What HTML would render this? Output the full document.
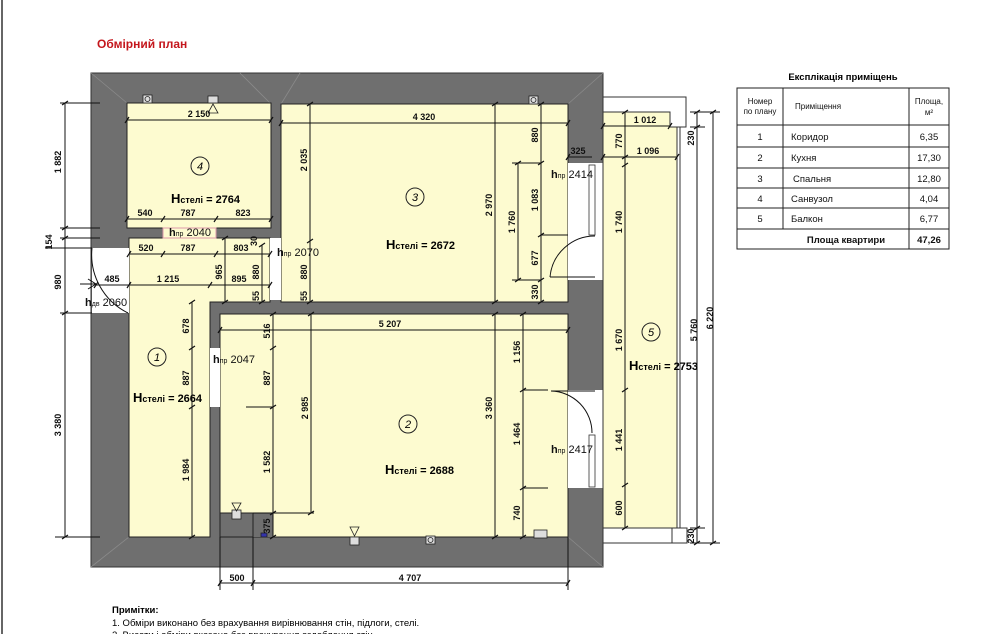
<!DOCTYPE html>
<html><head><meta charset="utf-8"><style>
html,body{margin:0;padding:0;background:#fff;width:1000px;height:634px;overflow:hidden}
svg{display:block;font-family:"Liberation Sans",sans-serif}
.d{font-size:9px;font-weight:bold;fill:#111}
.l line,.l path{stroke:#111;stroke-width:1;fill:none}
.h{font-size:11px;font-weight:bold}
.p{font-size:11px;fill:#111}
.t{font-size:9.5px;fill:#111}
</style></head><body>
<svg width="1000" height="634" viewBox="0 0 1000 634" xmlns="http://www.w3.org/2000/svg">
<line x1="2" y1="0" x2="2" y2="634" stroke="#333" stroke-width="1.5"/>
<text x="97" y="48" font-size="12" font-weight="bold" fill="#c4161c">Обмірний план</text>

<!-- outer walls -->
<rect x="91" y="73" width="512" height="494" fill="#6f6f6f" stroke="#333"/>
<g stroke="#8a8a8a" stroke-width="0.8">
<line x1="91" y1="73" x2="127" y2="103"/><line x1="603" y1="73" x2="568" y2="104"/>
<line x1="91" y1="567" x2="129" y2="537"/><line x1="603" y1="567" x2="568" y2="537"/>
<line x1="240" y1="73" x2="270" y2="103"/><line x1="300" y1="73" x2="281" y2="104"/>
</g>
<!-- rooms -->
<g fill="#fdfbd0" stroke="#222" stroke-width="1">
<rect x="127" y="103" width="144" height="125"/>
<rect x="281" y="104" width="287" height="198"/>
<rect x="220" y="314" width="348" height="223"/>
<path d="M129 238 H270 V302 H210 V537 H129 Z"/>
</g>
<rect x="253" y="513" width="20" height="24" fill="#6f6f6f"/>
<rect x="220" y="513" width="33" height="24" fill="#6f6f6f" stroke="#222"/>
<!-- openings -->
<rect x="163" y="228" width="53" height="10" fill="#fdfbd0" stroke="#d9a"/>
<rect x="270" y="238" width="11" height="62" fill="#fff"/>
<rect x="210" y="348" width="10" height="59" fill="#fff"/>
<rect x="92" y="248" width="37" height="65" fill="#fff"/>
<rect x="568" y="163" width="35" height="117" fill="#fff"/>
<rect x="568" y="390" width="35" height="98" fill="#fff"/>
<rect x="589" y="165" width="6" height="70" fill="#fff" stroke="#333" stroke-width="0.8"/>
<rect x="589" y="435" width="6" height="52" fill="#fff" stroke="#333" stroke-width="0.8"/>
<g class="l">
<path d="M550 277 A45 45 0 0 1 595 236"/><line x1="550" y1="277" x2="595" y2="277"/>
<path d="M551 391 A42 42 0 0 1 592 433"/><line x1="551" y1="391" x2="595" y2="391"/>
<path d="M92 248 A65 65 0 0 0 128 313" stroke-width="0.8"/>
<line x1="80" y1="284" x2="96" y2="284"/><path d="M88 279 L96 284 L88 289"/>
</g>
<!-- balcony -->
<path d="M603 97 H686 V127 H677 V543 H603 Z" fill="#fff" stroke="#333"/>
<path d="M603 112 H670 V127 H677 V528 H603 Z" fill="#fdfbd0" stroke="#333"/>
<rect x="672" y="528" width="15" height="15" fill="#fff" stroke="#333"/>
<line x1="680" y1="127" x2="680" y2="528" stroke="#333"/>

<!-- fixtures -->
<g stroke="#222" fill="#ddd" stroke-width="0.8">
<rect x="143" y="95" width="9" height="8"/><circle cx="147.5" cy="99" r="2.5"/>
<rect x="208" y="96" width="10" height="7"/><path d="M208 113 L218 113 L213 104 Z" fill="none"/>
<rect x="529" y="96" width="9" height="8"/><circle cx="533.5" cy="100" r="2.5"/>
<rect x="232" y="510" width="9" height="9"/><path d="M232 503 L241 503 L236.5 511 Z" fill="none"/>
<rect x="350" y="537" width="9" height="8"/><path d="M350 527 L359 527 L354.5 536 Z" fill="none"/>
<rect x="426" y="536" width="9" height="8"/><circle cx="430.5" cy="540" r="2.5"/>
<rect x="534" y="530" width="13" height="8"/><rect x="261" y="533" width="6" height="4" fill="#33a"/>
</g>

<!-- circles and H -->
<g fill="none" stroke="#222"><circle cx="200" cy="166" r="9"/><circle cx="415" cy="197" r="9"/><circle cx="157" cy="357" r="9"/><circle cx="408" cy="424" r="9"/><circle cx="651" cy="332" r="9"/></g>
<g font-size="11" font-style="italic" text-anchor="middle"><text x="200" y="170">4</text><text x="415" y="201">3</text><text x="157" y="361">1</text><text x="408" y="428">2</text><text x="651" y="336">5</text></g>
<g class="h">
<text x="171" y="203"><tspan font-size="13">H</tspan><tspan font-size="9">стелі</tspan> = 2764</text>
<text x="386" y="249"><tspan font-size="13">H</tspan><tspan font-size="9">стелі</tspan> = 2672</text>
<text x="133" y="402"><tspan font-size="13">H</tspan><tspan font-size="9">стелі</tspan> = 2664</text>
<text x="385" y="474"><tspan font-size="13">H</tspan><tspan font-size="9">стелі</tspan> = 2688</text>
<text x="629" y="370"><tspan font-size="13">H</tspan><tspan font-size="9">стелі</tspan> = 2753</text>
</g>
<g class="p" font-size="10">
<text x="169" y="236"><tspan font-weight="bold">h</tspan><tspan font-size="7">пр</tspan> 2040</text>
<text x="277" y="256"><tspan font-weight="bold">h</tspan><tspan font-size="7">пр</tspan> 2070</text>
<text x="85" y="306"><tspan font-weight="bold">h</tspan><tspan font-size="7">дв</tspan> 2060</text>
<text x="213" y="363"><tspan font-weight="bold">h</tspan><tspan font-size="7">пр</tspan> 2047</text>
<text x="551" y="178"><tspan font-weight="bold">h</tspan><tspan font-size="7">пр</tspan> 2414</text>
<text x="551" y="453"><tspan font-weight="bold">h</tspan><tspan font-size="7">пр</tspan> 2417</text>
</g>

<!-- dimension lines -->
<g class="l">
<line x1="127" y1="120" x2="271" y2="120"/>
<line x1="127" y1="219" x2="271" y2="219"/>
<line x1="129" y1="254" x2="270" y2="254"/>
<line x1="96" y1="285" x2="270" y2="285"/>
<line x1="281" y1="123" x2="568" y2="123"/>
<line x1="220" y1="330" x2="568" y2="330"/>
<line x1="225" y1="238" x2="225" y2="302"/>
<line x1="262" y1="245" x2="262" y2="302"/>
<line x1="310" y1="104" x2="310" y2="302"/>
<line x1="495" y1="104" x2="495" y2="302"/>
<line x1="541" y1="104" x2="541" y2="302"/>
<line x1="518" y1="163" x2="518" y2="280"/><line x1="512" y1="163" x2="541" y2="163"/><line x1="512" y1="280" x2="541" y2="280"/><line x1="541" y1="235" x2="568" y2="235"/>
<line x1="192" y1="302" x2="192" y2="537"/>
<line x1="273" y1="314" x2="273" y2="537"/><line x1="246" y1="407" x2="273" y2="407"/>
<line x1="311" y1="314" x2="311" y2="513"/><line x1="253" y1="513" x2="314" y2="513"/>
<line x1="495" y1="314" x2="495" y2="537"/>
<line x1="523" y1="314" x2="523" y2="537"/><line x1="523" y1="390" x2="548" y2="390"/><line x1="523" y1="488" x2="548" y2="488"/>
<line x1="568" y1="157" x2="592" y2="157"/>
<line x1="603" y1="126" x2="670" y2="126"/><line x1="603" y1="157" x2="677" y2="157"/>
<line x1="625" y1="112" x2="625" y2="528"/>
<line x1="65" y1="103" x2="65" y2="537"/>
<line x1="60" y1="103" x2="100" y2="103"/><line x1="60" y1="228" x2="100" y2="228"/><line x1="60" y1="238" x2="100" y2="238"/><line x1="45" y1="248" x2="92" y2="248"/><line x1="60" y1="313" x2="92" y2="313"/><line x1="55" y1="537" x2="100" y2="537"/>
<line x1="697" y1="112" x2="697" y2="543"/><line x1="713" y1="112" x2="713" y2="543"/>
<line x1="690" y1="112" x2="720" y2="112"/><line x1="690" y1="127" x2="705" y2="127"/><line x1="690" y1="528" x2="705" y2="528"/><line x1="690" y1="543" x2="720" y2="543"/>
<line x1="220" y1="583" x2="568" y2="583"/><line x1="220" y1="537" x2="220" y2="590"/><line x1="253" y1="537" x2="253" y2="590"/><line x1="568" y1="537" x2="568" y2="590"/>
</g>
<!-- ticks -->
<g stroke="#111" stroke-width="1.2">
<path d="M125 123l4-6M269 123l4-6M125 222l4-6M161 222l4-6M214 222l4-6M269 222l4-6M127 257l4-6M161 257l4-6M214 257l4-6M268 257l4-6M94 288l4-6M127 288l4-6M208 288l4-6M268 288l4-6M279 126l4-6M566 126l4-6M218 333l4-6M566 333l4-6M566 160l4-6M601 160l4-6M601 129l4-6M668 129l4-6M601 160l4-6M675 160l4-6M218 586l4-6M251 586l4-6M566 586l4-6"/>
<path d="M62 105l6-4M62 230l6-4M62 240l6-4M62 315l6-4M62 539l6-4M307 106l6-4M307 243l6-4M307 304l6-4M492 106l6-4M492 304l6-4M538 106l6-4M538 165l6-4M538 237l6-4M538 282l6-4M538 304l6-4M515 165l6-4M515 282l6-4M222 240l6-4M222 304l6-4M259 247l6-4M259 304l6-4M189 304l6-4M189 350l6-4M189 409l6-4M189 539l6-4M270 316l6-4M270 350l6-4M270 409l6-4M270 515l6-4M270 539l6-4M308 316l6-4M308 515l6-4M492 316l6-4M492 539l6-4M520 316l6-4M520 392l6-4M520 490l6-4M520 539l6-4M622 114l6-4M622 159l6-4M622 167l6-4M622 392l6-4M622 487l6-4M622 530l6-4M694 114l6-4M694 129l6-4M694 530l6-4M694 545l6-4M710 114l6-4M710 545l6-4"/>
</g>
<!-- dim texts horizontal -->
<g class="d" text-anchor="middle">
<text x="199" y="117">2 150</text><text x="145" y="216">540</text><text x="188" y="216">787</text><text x="243" y="216">823</text>
<text x="146" y="251">520</text><text x="188" y="251">787</text><text x="241" y="251">803</text>
<text x="112" y="282">485</text><text x="168" y="282">1 215</text><text x="239" y="282">895</text>
<text x="424" y="120">4 320</text><text x="390" y="327">5 207</text><text x="578" y="154">325</text>
<text x="645" y="123">1 012</text><text x="648" y="154">1 096</text>
<text x="237" y="581">500</text><text x="410" y="581">4 707</text>
</g>
<!-- vertical dim texts -->
<g class="d" text-anchor="middle">
<text transform="translate(61,162) rotate(-90)">1 882</text>
<text transform="translate(52,242) rotate(-90)">154</text>
<text transform="translate(61,282) rotate(-90)">980</text>
<text transform="translate(61,425) rotate(-90)">3 380</text>
<text transform="translate(222,272) rotate(-90)">965</text>
<text transform="translate(259,272) rotate(-90)">880</text>
<text transform="translate(259,296) rotate(-90)">55</text>
<text transform="translate(257,241) rotate(-90)">30</text>
<text transform="translate(307,160) rotate(-90)">2 035</text>
<text transform="translate(307,272) rotate(-90)">880</text>
<text transform="translate(307,296) rotate(-90)">55</text>
<text transform="translate(492,205) rotate(-90)">2 970</text>
<text transform="translate(538,135) rotate(-90)">880</text>
<text transform="translate(538,200) rotate(-90)">1 083</text>
<text transform="translate(538,258) rotate(-90)">677</text>
<text transform="translate(538,292) rotate(-90)">330</text>
<text transform="translate(515,222) rotate(-90)">1 760</text>
<text transform="translate(189,326) rotate(-90)">678</text>
<text transform="translate(189,378) rotate(-90)">887</text>
<text transform="translate(189,470) rotate(-90)">1 984</text>
<text transform="translate(270,331) rotate(-90)">516</text>
<text transform="translate(270,378) rotate(-90)">887</text>
<text transform="translate(270,462) rotate(-90)">1 582</text>
<text transform="translate(270,526) rotate(-90)">375</text>
<text transform="translate(308,408) rotate(-90)">2 985</text>
<text transform="translate(492,408) rotate(-90)">3 360</text>
<text transform="translate(520,352) rotate(-90)">1 156</text>
<text transform="translate(520,434) rotate(-90)">1 464</text>
<text transform="translate(520,513) rotate(-90)">740</text>
<text transform="translate(622,141) rotate(-90)">770</text>
<text transform="translate(622,222) rotate(-90)">1 740</text>
<text transform="translate(622,340) rotate(-90)">1 670</text>
<text transform="translate(622,440) rotate(-90)">1 441</text>
<text transform="translate(622,508) rotate(-90)">600</text>
<text transform="translate(694,138) rotate(-90)">230</text>
<text transform="translate(694,536) rotate(-90)">230</text>
<text transform="translate(697,330) rotate(-90)" fill="#111">5 760</text>
<text transform="translate(713,318) rotate(-90)">6 220</text>
</g>
<!-- masks behind vertical texts on long lines -->

<!-- table -->
<text x="843" y="80" font-size="9.5" font-weight="bold" text-anchor="middle">Експлікація приміщень</text>
<g stroke="#222" stroke-width="1" fill="none">
<rect x="737" y="88" width="212" height="161"/>
<line x1="737" y1="125" x2="949" y2="125"/><line x1="737" y1="147" x2="949" y2="147"/><line x1="737" y1="168" x2="949" y2="168"/><line x1="737" y1="188" x2="949" y2="188"/><line x1="737" y1="208" x2="949" y2="208"/><line x1="737" y1="229" x2="949" y2="229"/>
<line x1="783" y1="88" x2="783" y2="229"/><line x1="909" y1="88" x2="909" y2="249"/>
</g>
<g class="t">
<text x="760" y="104" font-size="8" text-anchor="middle">Номер</text><text x="760" y="114" font-size="8" text-anchor="middle">по плану</text>
<text x="795" y="109" font-size="8">Приміщення</text>
<text x="929" y="104" font-size="8" text-anchor="middle">Площа,</text><text x="929" y="115" font-size="8" text-anchor="middle">м²</text>
<g text-anchor="middle"><text x="760" y="140">1</text><text x="760" y="161">2</text><text x="760" y="182">3</text><text x="760" y="202">4</text><text x="760" y="222">5</text></g>
<text x="791" y="140">Коридор</text><text x="791" y="161">Кухня</text><text x="793" y="182">Спальня</text><text x="791" y="202">Санвузол</text><text x="791" y="222">Балкон</text>
<g text-anchor="middle"><text x="929" y="140">6,35</text><text x="929" y="161">17,30</text><text x="929" y="182">12,80</text><text x="929" y="202">4,04</text><text x="929" y="222">6,77</text>
<text x="846" y="243" font-weight="bold">Площа квартири</text><text x="929" y="243" font-weight="bold">47,26</text></g>
</g>
<!-- notes -->
<text x="112" y="613" font-size="9.5" font-weight="bold">Примітки:</text>
<text x="112" y="626" font-size="9.5">1. Обміри виконано без врахування вирівнювання  стін, підлоги, стелі.</text>
<text x="112" y="638" font-size="9.5">2. Висоти і обміри вказано без врахування оздоблення стін.</text>
</svg>
</body></html>
